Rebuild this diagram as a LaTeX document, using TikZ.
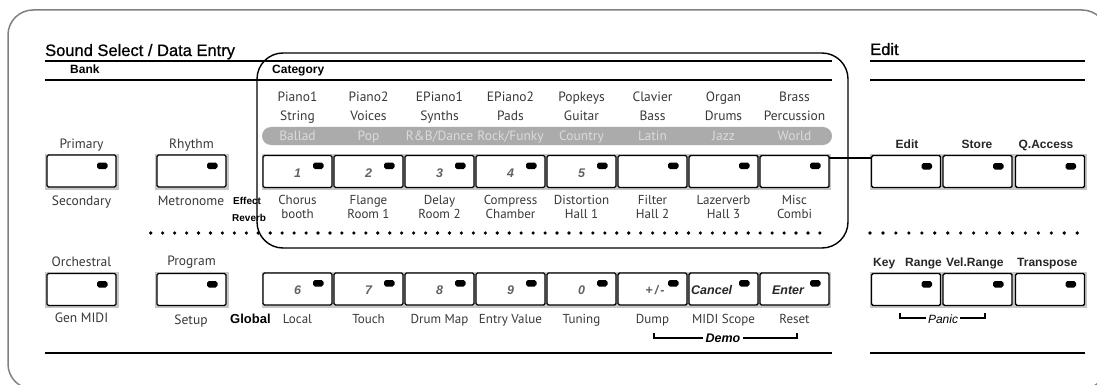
\documentclass[tikz,border=0pt]{standalone}
\usepackage{fontspec}
\setmainfont{PT Sans}
\newfontfamily\hf{Liberation Sans}
\newfontfamily\hfm[FakeBold=0.8]{Liberation Sans}
\begin{document}
\begin{tikzpicture}[x=1pt,y=-1pt,
  btn/.style={draw=black, line width=1.4pt, fill=white, rounded corners=1.5pt,
    minimum width=69pt, minimum height=32pt, inner sep=0pt, outer sep=0pt},
  led/.style={fill=black, rounded corners=1.8pt},
  shade/.style={fill=black!22},
  lbl/.style={font=\fontsize{13.5}{14}\selectfont, text=black!78, anchor=base, inner sep=0pt},
  slbl/.style={font=\fontsize{13}{14}\selectfont, text=black!78, anchor=base, inner sep=0pt},
  pill/.style={font=\fontsize{13.5}{14}\selectfont, text=black!14, anchor=base, inner sep=0pt},
  head/.style={font=\hfm\fontsize{16.5}{18}\selectfont, anchor=base west, inner sep=0pt},
  sub/.style={font=\hf\bfseries\fontsize{12}{13}\selectfont, anchor=base west, inner sep=0pt},
  elbl/.style={font=\hf\bfseries\fontsize{12}{13}\selectfont, text=black!85, anchor=base, inner sep=0pt},
  num/.style={font=\hf\bfseries\itshape\fontsize{12.5}{13}\selectfont, text=black!62, anchor=base, inner sep=0pt},
  tiny/.style={font=\hf\bfseries\fontsize{10}{11}\selectfont, anchor=base west, inner sep=0pt},
  rule/.style={line width=1.4pt},
  brk/.style={line width=1.1pt}]
\useasboundingbox (0,0) rectangle (1097,385);
\clip (0,0) rectangle (1097,385);
% outer frame
\draw[black!50, line width=1.5pt, rounded corners=25pt] (8,10) rectangle (1107,389);
% headings and rules
\node[head] (hsound) at (45,56) {Sound Select / Data Entry};
\node[head] (hedit) at (870,55) {Edit};
\node[sub] (hbank) at (70,74) {Bank};
\node[sub] (hcat) at (272,74) {Category};
\draw[rule] (45,61) -- (832,61);
\draw[rule] (45,80) -- (832,80);
\draw[rule] (870,61) -- (1085,61);
\draw[rule] (870,80) -- (1085,80);
\draw[rule] (45,353) -- (832,353);
\draw[rule] (870,353) -- (1085,353);
% category box
\draw[line width=1.4pt, rounded corners=26pt] (257,53) rectangle (848,248);
% gray pill
\fill[black!33, rounded corners=9pt] (262,127) rectangle (832,145);
% dotted lines
\foreach \i in {0,...,56} \fill (150.7+\i*11.95,233) circle (1.8);
\foreach \i in {0,...,16} \fill (870+\i*12.95,233) circle (1.8);
% shading behind button groups
\foreach \ya/\yb in {153.5/189.5, 271.5/307.5} {
  \fill[shade] (44.5,\ya) rectangle (118.5,\yb);
  \fill[shade] (154.5,\ya) rectangle (228.5,\yb);
  \fill[shade] (261.5,\ya) rectangle (830.5,\yb);
  \fill[shade] (870,\ya) rectangle (1086.5,\yb);
}
% buttons
\foreach \n/\cx/\cy in {pri/81.5/171, rhy/191.5/171, orc/81.5/289.5, prg/191.5/289.5,
   ed/906/171.5, st/977.5/171.5, qa/1050/171.5, kr/906/289.5, vr/977.5/289.5, tr/1050/289.5} {
  \node[btn] (\n) at (\cx,\cy) {};
  \fill[led] ([xshift=-19pt,yshift=-7.5pt]\n.north east) rectangle ([xshift=-8.5pt,yshift=-14pt]\n.north east);
}
\foreach \i in {1,...,8} {
  \node[btn] (c\i) at (297.5+71*\i-71,171.5) {};
  \fill[led] ([xshift=-19pt,yshift=-7pt]c\i.north east) rectangle ([xshift=-8.5pt,yshift=-13.5pt]c\i.north east);
  \node[btn] (d\i) at (297.5+71*\i-71,289) {};
  \fill[led] ([xshift=-19pt,yshift=-7pt]d\i.north east) rectangle ([xshift=-8.5pt,yshift=-13.5pt]d\i.north east);
}
% connector from button 8 to Edit
\draw[line width=1.1pt] ([yshift=-2.5pt]c8.north east) -- ([yshift=-2.5pt]ed.north west);
% numbers in buttons
\foreach \i/\t in {1/1,2/2,3/3,4/4,5/5} \node[num] (cn\i) at (297.5+71*\i-71,177.5) {\t};
\foreach \i/\t in {1/6,2/7,3/8,4/9,5/0} \node[num] (dn\i) at (297.5+71*\i-71,294.5) {\t};
\node[num] (dn6) at (655,294.5) {+\,/\,-};
\node[num, anchor=base west, text=black!85] (dn7) at (691,294.5) {Cancel};
\node[num, text=black!85] (dn8) at (788,294.5) {Enter};
% left labels
\node[lbl] (lpri) at (81.5,148) {Primary};
\node[lbl] (lrhy) at (191.5,148) {Rhythm};
\node[lbl] (lsec) at (81.5,205) {Secondary};
\node[lbl] (lmet) at (191,205) {Metronome};
\node[lbl] (lorc) at (81.5,266) {Orchestral};
\node[lbl] (lprg) at (191.5,265) {Program};
\node[lbl] (lgen) at (81.5,322) {Gen MIDI};
\node[lbl] (lset) at (191,324) {Setup};
\node[tiny] (leff) at (233,204) {Effect};
\node[tiny] (lrev) at (232,221) {Reverb};
\node[font=\hf\bfseries\fontsize{13}{14}\selectfont, anchor=base west, inner sep=0pt] (lglob) at (230,323) {Global};
% category labels
\foreach \a/\b [count=\i] in {Piano1/String, Piano2/Voices, EPiano1/Synths, EPiano2/Pads,
   Popkeys/Guitar, Clavier/Bass, Organ/Drums, Brass/Percussion} {
  \node[lbl] (ta\i) at (297.5+71*\i-71,102) {\a};
  \node[lbl] (tb\i) at (297.5+71*\i-71,121) {\b};
}
\foreach \p [count=\i] in {Ballad, Pop, {R\&B/Dance}, {Rock/Funky}, Country, Latin, Jazz, World}
  \node[pill] (pp\i) at (297.5+71*\i-71,140) {\p};
\foreach \a/\b [count=\i] in {Chorus/booth, Flange/Room 1, Delay/Room 2, Compress/Chamber,
   Distortion/Hall 1, Filter/Hall 2, Lazerverb/Hall 3, Misc/Combi} {
  \node[slbl] (ba\i) at (297.5+71*\i-71,204) {\a};
  \node[slbl] (bb\i) at (297.5+71*\i-71,218) {\b};
}
\foreach \a [count=\i] in {Local, Touch, Drum Map, Entry Value, Tuning, Dump, MIDI Scope, Reset}
  \node[slbl] (bl\i) at (297.5+71*\i-71,323) {\a};
% edit labels
\node[elbl] (led) at (907,148) {Edit};
\node[elbl] (lst) at (977,148) {Store};
\node[elbl] (lqa) at (1046,148) {Q.Access};
\node[elbl, anchor=base west] (lkey) at (873,266) {Key};
\node[elbl, anchor=base west] (lrng) at (905,266) {Range};
\node[elbl, anchor=base west] (lvel) at (946,266) {Vel.Range};
\node[elbl, anchor=base west] (ltra) at (1017,266) {Transpose};
% Demo bracket
\node[font=\hf\bfseries\itshape\fontsize{12.5}{13}\selectfont, anchor=base, inner sep=2pt] (demo) at (723,342) {Demo};
\coordinate (dl) at (654,333);
\coordinate (dr) at (797,333);
\draw[brk] (dl) -- (dl |- 0,338) -- (demo.west |- 0,338);
\draw[brk] (dr) -- (dr |- 0,338) -- (demo.east |- 0,338);
% Panic bracket
\node[font=\hf\itshape\fontsize{12}{13}\selectfont, anchor=base, inner sep=2pt] (panic) at (943,323) {Panic};
\coordinate (pl) at (900,313);
\coordinate (pr) at (985,313);
\draw[brk] (pl) -- (pl |- 0,318) -- (panic.west |- 0,318);
\draw[brk] (pr) -- (pr |- 0,318) -- (panic.east |- 0,318);
\end{tikzpicture}
\end{document}
